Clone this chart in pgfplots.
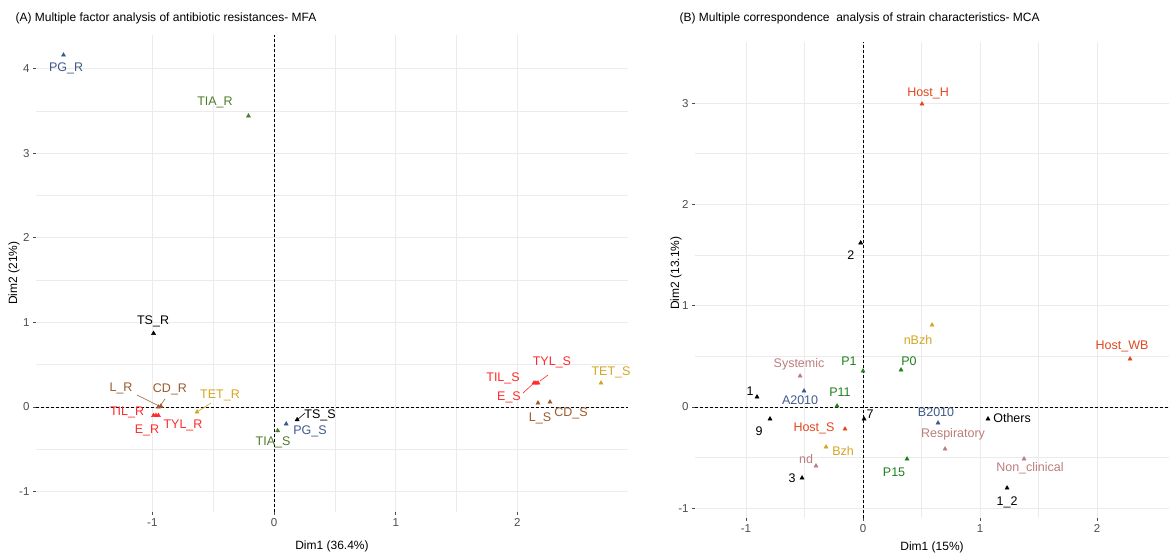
\documentclass[border=0pt]{standalone}
\usepackage{pgfplots}
\pgfplotsset{compat=1.18}
\usepackage{fontspec}
\setmainfont{Liberation Sans}
\definecolor{cblue}{HTML}{3E5A8C}
\definecolor{cgreen}{HTML}{4F7A2A}
\definecolor{cbrown}{HTML}{9A5A2C}
\definecolor{cred}{HTML}{FF2A2A}
\definecolor{cgold}{HTML}{D4A520}
\definecolor{morange}{HTML}{E2481E}
\definecolor{mgreen}{HTML}{1F7F1F}
\definecolor{mrose}{HTML}{BC7C7C}
\definecolor{gridc}{HTML}{EBEBEB}
\definecolor{tickc}{HTML}{4D4D4D}
\newcommand{\lbl}[4]{\node[font=\fontsize{12.5}{14}\selectfont, text=#4, inner sep=0pt] at (axis cs:#1,#2) {#3};}
\pgfplotsset{
  pca/.style={
    scale only axis,
    axis line style={draw=none},
    tick align=outside,
    tick pos=left,
    major tick length=3pt,
    minor tick length=0pt,
    tick style={tickc, line width=0.6pt},
    grid=both,
    major grid style={gridc, line width=0.9pt},
    minor grid style={gridc, line width=0.6pt},
    minor tick num=1,
    ticklabel style={font=\fontsize{11.5}{13}\selectfont, text=tickc},
    clip=false,
  },
  zl/.style={black, line width=0.8pt, dash pattern=on 3pt off 2pt},
  pt/.style={only marks, mark=triangle*, mark size=2.4pt, color=#1, mark options={fill=#1, draw=#1}},
}
\begin{document}
\begin{tikzpicture}[x=1pt,y=1pt]
\useasboundingbox (0,0) rectangle (1169,554);
\node[anchor=west, font=\fontsize{12}{14}\selectfont] at (12,536) {(A) Multiple factor analysis of antibiotic resistances- MFA};
\node[anchor=west, font=\fontsize{12}{14}\selectfont] at (676,536) {(B) Multiple correspondence\ \ analysis of strain characteristics- MCA};
\node[font=\fontsize{12}{14}\selectfont] at (332,8) {Dim1 (36.4\%)};
\node[font=\fontsize{12}{14}\selectfont, rotate=90] at (14,281) {Dim2 (21\%)};
\node[font=\fontsize{12}{14}\selectfont] at (932,7) {Dim1 (15\%)};
\node[font=\fontsize{12}{14}\selectfont, rotate=90] at (676,281) {Dim2 (13.1\%)};

% Panel A
\begin{axis}[pca, at={(36pt,42pt)}, anchor=south west, width=592pt, height=477pt,
  xmin=-1.956, xmax=2.909, ymin=-1.241, ymax=4.397,
  xtick={-1,0,1,2}, xticklabels={-1,0,1,2},
  ytick={-1,0,1,2,3,4}, yticklabels={-1,0,1,2,3,4}]
\addplot[zl] coordinates {(0,-1.241) (0,4.397)};
\addplot[zl] coordinates {(-1.956,0) (2.909,0)};
\draw[cbrown, line width=0.6pt] (axis cs:-1.126,0.142) -- (axis cs:-0.945,0.012);
\draw[cbrown, line width=0.6pt] (axis cs:-0.896,0.095) -- (axis cs:-0.937,0.012);
\draw[cgold, line width=0.6pt] (axis cs:-0.518,0.047) -- (axis cs:-0.633,-0.059);
\draw[black, line width=0.6pt] (axis cs:0.255,-0.071) -- (axis cs:0.189,-0.154);
\draw[cred, line width=0.6pt] (axis cs:2.046,0.165) -- (axis cs:2.136,0.284);
\draw[cred, line width=0.6pt] (axis cs:2.251,0.378) -- (axis cs:2.186,0.307);
\addplot[pt=cblue] coordinates {(-1.73,4.16) (0.10,-0.20)};
\addplot[pt=cgreen] coordinates {(-0.21,3.44) (0.03,-0.28)};
\addplot[pt=black] coordinates {(-0.99,0.87) (0.19,-0.15)};
\addplot[pt=cred] coordinates {(-0.99,-0.10) (-0.97,-0.10) (-0.95,-0.10) (2.136,0.284) (2.152,0.284) (2.169,0.284)};
\addplot[pt=cbrown] coordinates {(-0.95,0.0) (-0.93,0.01) (2.169,0.047) (2.268,0.059)};
\addplot[pt=cgold] coordinates {(-0.633,-0.059) (2.687,0.284)};
\lbl{-1.709}{4.007}{PG\_R}{cblue}
\lbl{-0.485}{3.605}{TIA\_R}{cgreen}
\lbl{-0.994}{1.017}{TS\_R}{black}
\lbl{-1.257}{0.225}{L\_R}{cbrown}
\lbl{-0.855}{0.213}{CD\_R}{cbrown}
\lbl{-1.208}{-0.059}{TIL\_R}{cred}
\lbl{-1.044}{-0.272}{E\_R}{cred}
\lbl{-0.748}{-0.213}{TYL\_R}{cred}
\lbl{-0.444}{0.142}{TET\_R}{cgold}
\lbl{0.378}{-0.095}{TS\_S}{black}
\lbl{0.296}{-0.284}{PG\_S}{cblue}
\lbl{-0.008}{-0.414}{TIA\_S}{cgreen}
\lbl{2.284}{0.532}{TYL\_S}{cred}
\lbl{1.882}{0.343}{TIL\_S}{cred}
\lbl{1.931}{0.118}{E\_S}{cred}
\lbl{2.186}{-0.130}{L\_S}{cbrown}
\lbl{2.440}{-0.071}{CD\_S}{cbrown}
\lbl{2.769}{0.414}{TET\_S}{cgold}
\end{axis}

% Panel B
\begin{axis}[pca, at={(695pt,36pt)}, anchor=south west, width=474pt, height=476pt,
  xmin=-1.436, xmax=2.615, ymin=-1.096, ymax=3.603,
  xtick={-1,0,1,2}, xticklabels={-1,0,1,2},
  ytick={-1,0,1,2,3}, yticklabels={-1,0,1,2,3}]
\addplot[zl] coordinates {(0,-1.096) (0,3.603)};
\addplot[zl] coordinates {(-1.436,0) (2.615,0)};
\addplot[pt=morange] coordinates {(0.504,2.991) (2.282,0.474) (-0.154,-0.217)};
\addplot[pt=cgold] coordinates {(0.590,0.809) (-0.316,-0.395)};
\addplot[pt=mgreen] coordinates {(0.325,0.365) (0.0,0.355) (-0.222,0.010) (0.376,-0.513)};
\addplot[pt=mrose] coordinates {(-0.538,0.306) (-0.402,-0.582) (0.701,-0.415) (1.376,-0.513)};
\addplot[pt=cblue] coordinates {(-0.504,0.158) (0.641,-0.158)};
\addplot[pt=black] coordinates {(-0.02,1.62) (-0.906,0.099) (-0.795,-0.118) (0.009,-0.118) (-0.521,-0.701) (1.068,-0.118) (1.231,-0.800)};
\lbl{0.556}{3.100}{Host\_H}{morange}
\lbl{-0.105}{1.50}{2}{black}
\lbl{0.470}{0.661}{nBzh}{cgold}
\lbl{2.214}{0.602}{Host\_WB}{morange}
\lbl{0.393}{0.454}{P0}{mgreen}
\lbl{-0.120}{0.454}{P1}{mgreen}
\lbl{-0.547}{0.424}{Systemic}{mrose}
\lbl{-0.966}{0.158}{1}{black}
\lbl{-0.538}{0.069}{A2010}{cblue}
\lbl{-0.197}{0.148}{P11}{mgreen}
\lbl{-0.889}{-0.237}{9}{black}
\lbl{0.060}{-0.069}{7}{black}
\lbl{-0.419}{-0.207}{Host\_S}{morange}
\lbl{-0.171}{-0.434}{Bzh}{cgold}
\lbl{-0.487}{-0.513}{nd}{mrose}
\lbl{-0.607}{-0.701}{3}{black}
\lbl{0.265}{-0.642}{P15}{mgreen}
\lbl{0.624}{-0.049}{B2010}{cblue}
\lbl{0.769}{-0.267}{Respiratory}{mrose}
\lbl{1.274}{-0.109}{Others}{black}
\lbl{1.427}{-0.602}{Non\_clinical}{mrose}
\lbl{1.231}{-0.938}{1\_2}{black}
\end{axis}
\end{tikzpicture}
\end{document}
